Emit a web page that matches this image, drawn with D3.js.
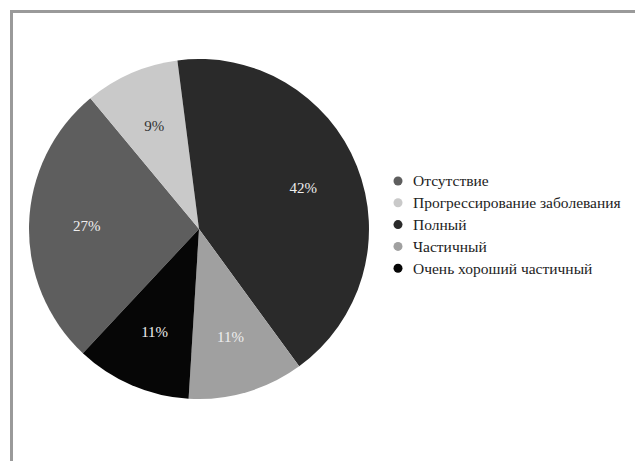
<!DOCTYPE html>
<html>
<head>
<meta charset="utf-8">
<script src="https://cdn.jsdelivr.net/npm/d3@7"></script>
<style>
  body { margin: 0; background: #fff; }
  svg { display: block; }
</style>
</head>
<body>
<script>
var width = 635, height = 461;
var serif = "'Liberation Serif', 'DejaVu Serif', serif";

// legend order
var categories = ["Отсутствие", "Прогрессирование заболевания", "Полный", "Частичный", "Очень хороший частичный"];
var values = [27, 9, 42, 11, 11];
var colors = ["#5e5e5e", "#c9c9c9", "#2a2a2a", "#a0a0a0", "#060606"];
var labelColors = ["#eee", "#333", "#eee", "#eee", "#eee"];
// order of slices clockwise from the top
var pieOrder = ["Полный", "Частичный", "Очень хороший частичный", "Отсутствие", "Прогрессирование заболевания"];

var data = categories.map((c, i) => ({name: c, value: values[i], color: colors[i], label: labelColors[i]}));

var cx = 199, cy = 229, radius = 170;
var startAngle = -7.3 * Math.PI / 180;

var svg = d3.select("body")
  .append("svg")
  .attr("width", width)
  .attr("height", height);

// frame
svg.append("path")
  .attr("d", "M11.5," + height + "V11.5H" + width)
  .attr("fill", "none")
  .attr("stroke", "#9a9a9a")
  .attr("stroke-width", 3);

var pie = d3.pie()
  .value(d => d.value)
  .sort((a, b) => pieOrder.indexOf(a.name) - pieOrder.indexOf(b.name))
  .startAngle(startAngle)
  .endAngle(startAngle + 2 * Math.PI);

var arc = d3.arc().innerRadius(0).outerRadius(radius);
var labelArc = d3.arc().innerRadius(radius * 0.66).outerRadius(radius * 0.66);

var g = svg.append("g").attr("transform", "translate(" + cx + "," + cy + ")");

var arcs = pie(data);

g.selectAll("path.slice")
  .data(arcs)
  .enter()
  .append("path")
  .attr("class", "slice")
  .attr("d", arc)
  .attr("fill", d => d.data.color);

g.selectAll("text.pct")
  .data(arcs)
  .enter()
  .append("text")
  .attr("class", "pct")
  .attr("transform", d => "translate(" + labelArc.centroid(d) + ")")
  .attr("text-anchor", "middle")
  .attr("dy", "0.35em")
  .attr("font-family", serif)
  .attr("font-size", 15)
  .attr("fill", d => d.data.label)
  .text(d => d.data.value + "%");

// legend
var legend = svg.append("g").attr("transform", "translate(398,181)");

var item = legend.selectAll("g")
  .data(data)
  .enter()
  .append("g")
  .attr("transform", (d, i) => "translate(0," + (i * 21.8) + ")");

item.append("circle")
  .attr("r", 4.5)
  .attr("fill", d => d.color);

item.append("text")
  .attr("x", 15)
  .attr("dy", "0.35em")
  .attr("font-family", serif)
  .attr("font-size", 15.5)
  .attr("fill", "#222")
  .text(d => d.name);
</script>
</body>
</html>
